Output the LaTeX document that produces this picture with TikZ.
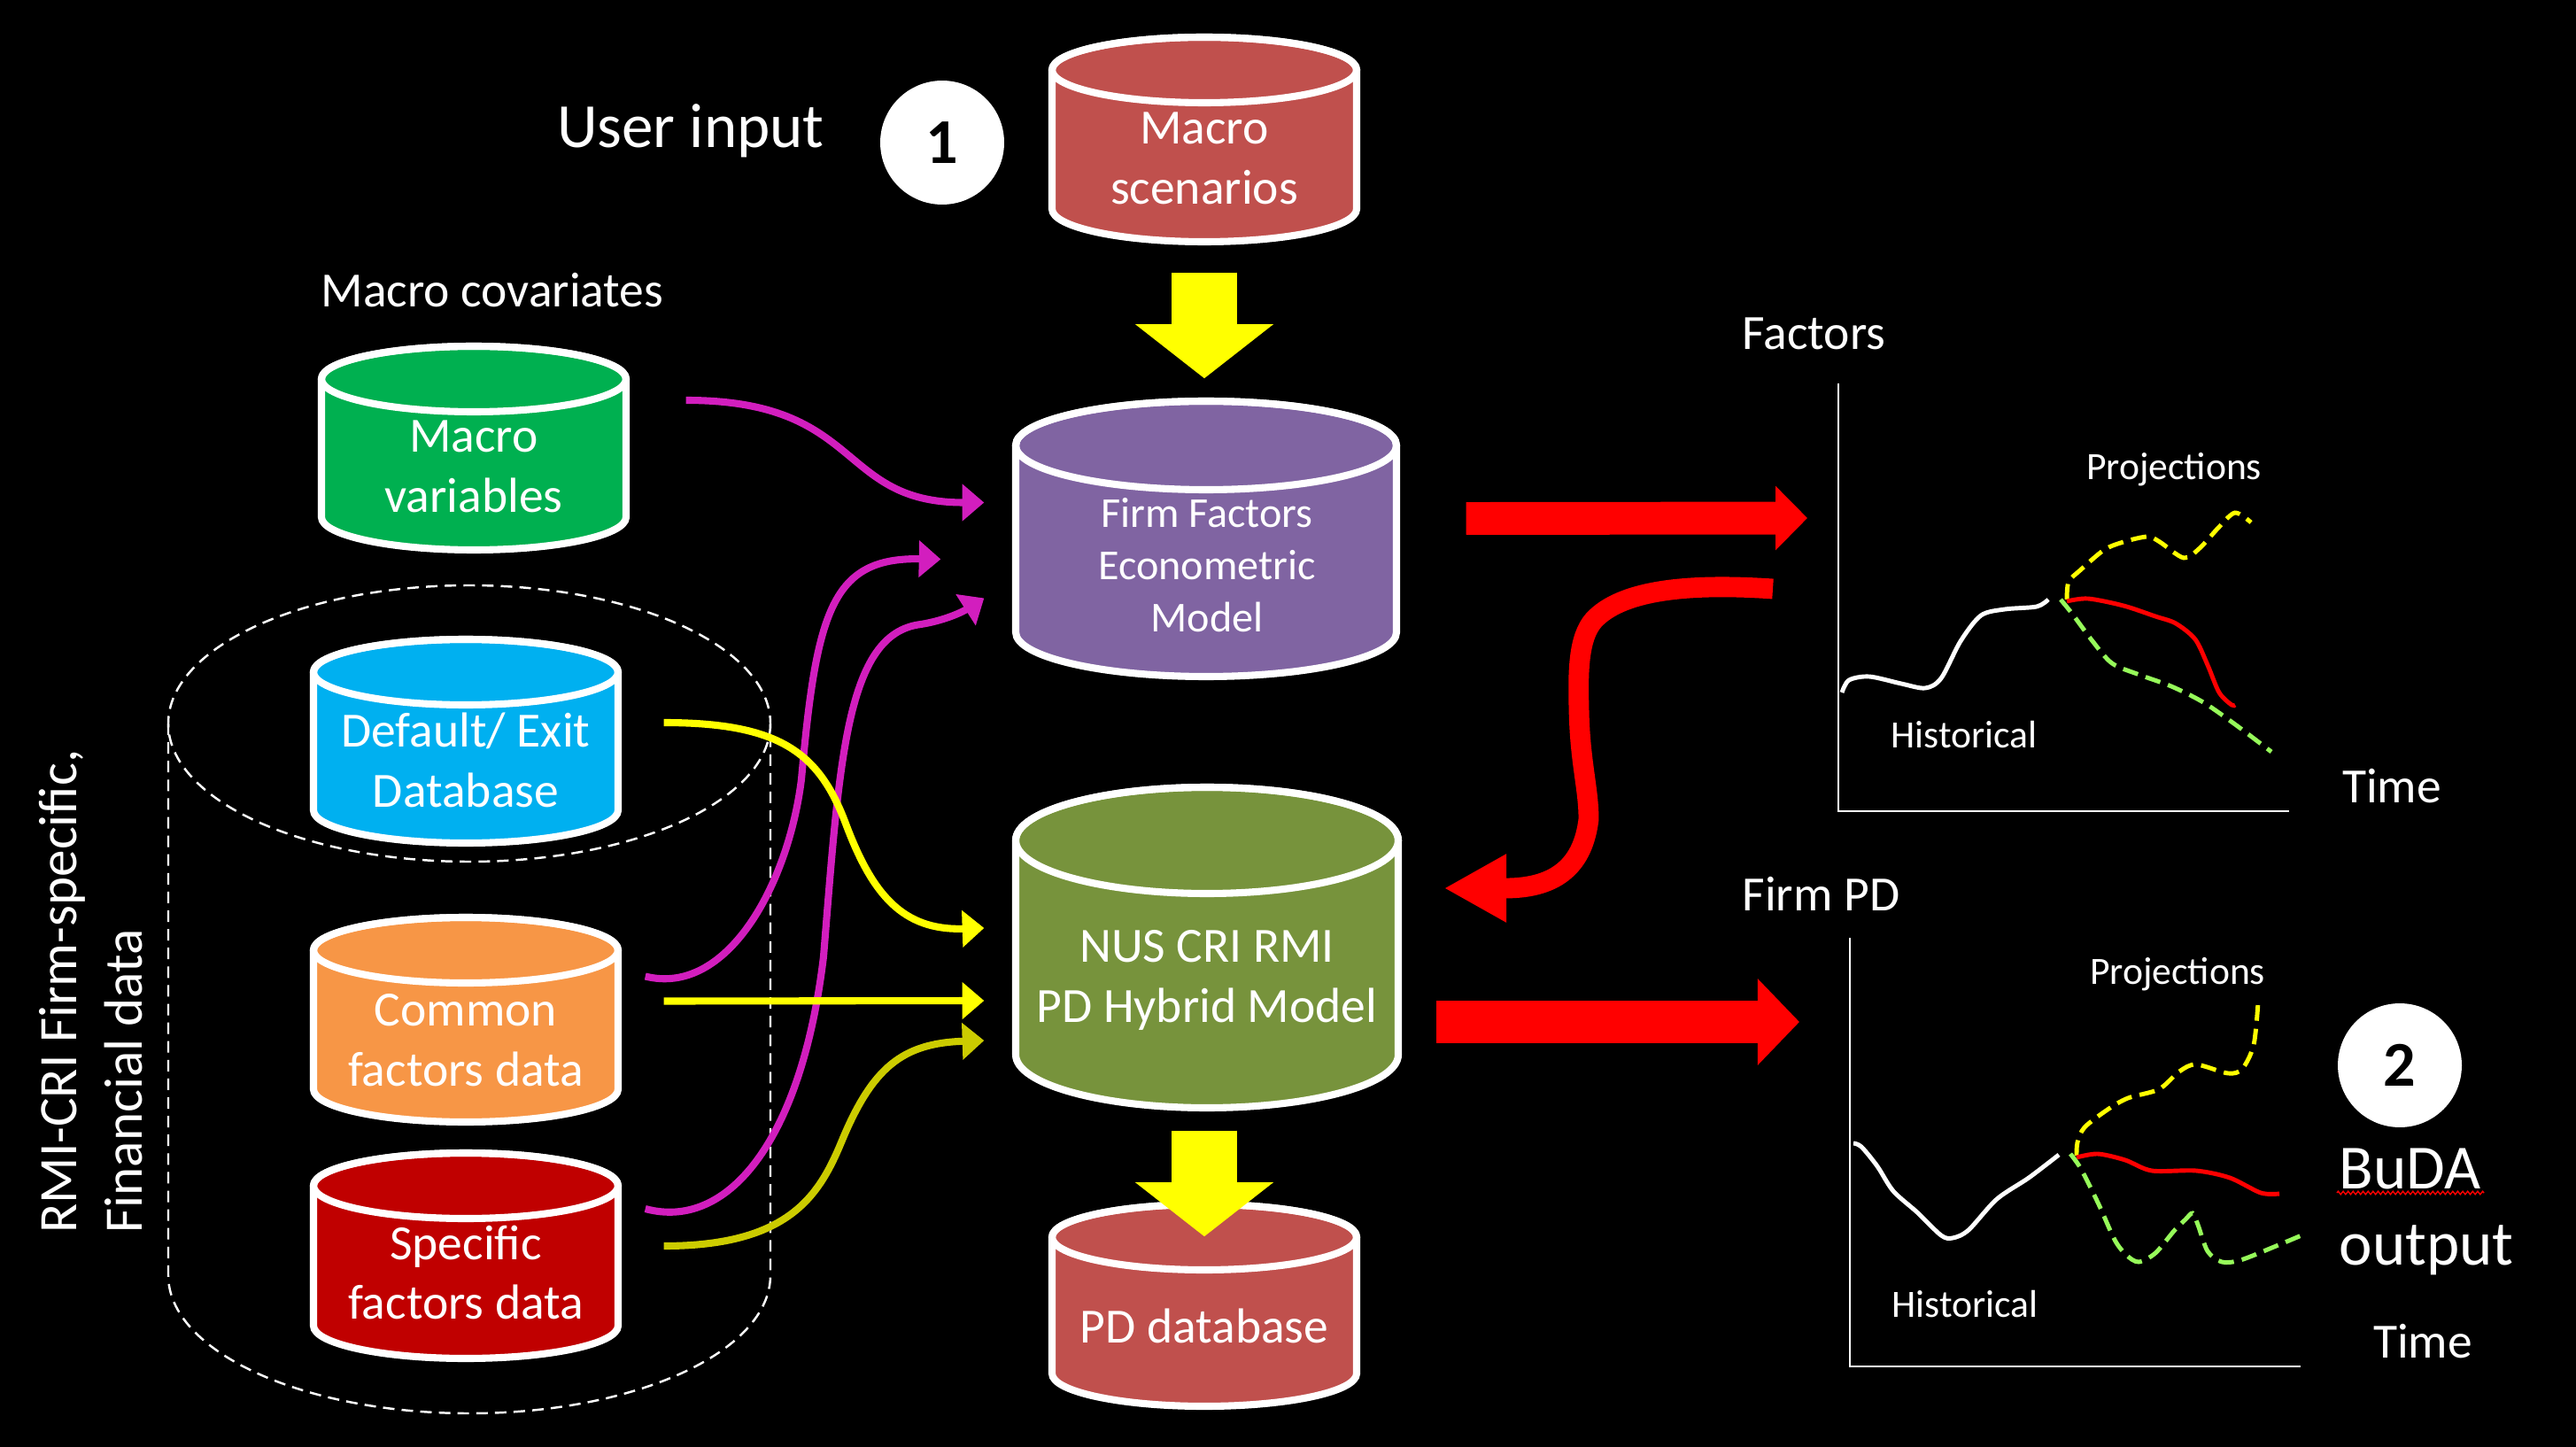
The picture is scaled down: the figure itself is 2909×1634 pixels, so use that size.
\documentclass[tikz,border=0pt]{standalone}
\usepackage{fontspec}
\setmainfont{Carlito}
\usetikzlibrary{arrows.meta,decorations.pathmorphing}

\definecolor{dbred}{HTML}{C0504D}
\definecolor{dbgreen}{HTML}{00B050}
\definecolor{dbblue}{HTML}{00B0F0}
\definecolor{dborange}{HTML}{F79646}
\definecolor{dbdarkred}{HTML}{C00000}
\definecolor{dbpurple}{HTML}{8064A2}
\definecolor{dbolive}{HTML}{77933C}
\definecolor{magline}{RGB}{210,30,190}
\definecolor{yelline}{RGB}{255,255,0}
\definecolor{oliveline}{RGB}{204,204,0}
\definecolor{projgreen}{RGB}{150,250,90}

% database cylinder: name, fill, centre x, top, bottom, x radius, y radius
\newcommand{\dbcyl}[7]{%
  \filldraw[dbline, fill=#2] ({#3-#6},{#4+#7}) -- ({#3-#6},{#5-#7})
    arc[start angle=180, end angle=0, x radius=#6, y radius=#7]
    -- ({#3+#6},{#4+#7})
    arc[start angle=0, end angle=-180, x radius=#6, y radius=#7] -- cycle;
  \draw[dbline] (#3,{#4+#7}) ellipse[x radius=#6, y radius=#7];
  \node[inner sep=0pt, minimum width={2*#6*0.01cm}, minimum height={(#5-#4)*0.01cm}] (#1) at (#3,{(#4+#5)/2}) {};
}

\begin{document}
\begin{tikzpicture}[x=0.01cm, y=-0.01cm]
        \tikzstyle{dbline}=[draw=white, line width=2.3pt]
        \tikzstyle{dbtext}=[text=white, align=center, inner sep=0pt, font=\fontsize{15.8}{19.3}\selectfont]
        \tikzstyle{fftext}=[dbtext, font=\fontsize{13.7}{16.8}\selectfont]
        \tikzstyle{bigtext}=[text=white, inner sep=0pt, font=\fontsize{20.2}{24.6}\selectfont]
        \tikzstyle{smalltext}=[text=white, inner sep=0pt, font=\fontsize{12.4}{15}\selectfont]
        \tikzstyle{sidetext}=[text=white, inner sep=0pt, rotate=90, anchor=base west, font=\fontsize{17.4}{21}\selectfont]
        \tikzstyle{numcircle}=[circle, fill=white, inner sep=0pt, minimum size=39.8pt, text=black, font=\bfseries\fontsize{20.5}{24}\selectfont]
        \tikzstyle{groupline}=[white, line width=0.7pt, dash pattern=on 3.7pt off 2.3pt]
        \tikzstyle{magarrow}=[draw=magline, line width=2.3pt, -{Triangle[length=7pt, width=11.5pt]}]
        \tikzstyle{yelarrow}=[magarrow, draw=yelline]
        \tikzstyle{olivearrow}=[magarrow, draw=oliveline]
        \tikzstyle{yelblock}=[draw=yelline, line width=21.3pt, -{Triangle[length=17.4pt, width=43.5pt]}]
        \tikzstyle{redblock}=[draw=red, line width=10.5pt, -{Triangle[length=10.2pt, width=20pt]}]
        \tikzstyle{redcurve}=[draw=red, line width=6.5pt, -{Triangle[length=20pt, width=20.5pt]}]
        \tikzstyle{axisline}=[white, line width=0.8pt]
        \tikzstyle{histline}=[white, line width=1.4pt]
        \tikzstyle{projdash}=[line width=1.4pt, dash pattern=on 5pt off 2.6pt]

        \useasboundingbox (0,0) rectangle (2909,1634);
        \fill[black] (0,0) rectangle (2909,1634);

        % firm-specific group
        \draw[groupline] (530,817) ellipse[x radius=340, y radius=156];
        \draw[groupline] (190,817) -- (190,1440) arc[start angle=180, end angle=0, x radius=340, y radius=156] -- (870,817);
        \node[sidetext] (side1) at (87,1393) {RMI-CRI Firm-specific,};
        \node[sidetext] (side2) at (160,1393) {Financial data};

        % databases
        \dbcyl{msc}{dbred}{1360}{42}{273}{172}{37}
        \dbcyl{mvar}{dbgreen}{535}{391}{621}{172}{37}
        \dbcyl{dfx}{dbblue}{526}{722}{952}{172}{37}
        \dbcyl{com}{dborange}{526}{1036}{1267}{172}{37}
        \dbcyl{spc}{dbdarkred}{526}{1302}{1534}{172}{37}
        \dbcyl{ffem}{dbpurple}{1362}{453}{764}{215}{50}
        \dbcyl{hyb}{dbolive}{1363}{889}{1251}{216}{60}
        \dbcyl{pdb}{dbred}{1360}{1360}{1588}{172}{37}

        \node[dbtext] (msctext) at (1360,179) {Macro\\scenarios};
        \node[dbtext] (mvartext) at (535,527) {Macro\\variables};
        \node[dbtext] (dfxtext) at (526,858) {Default/ Exit\\Database};
        \node[dbtext] (comtext) at (526,1175) {Common\\factors data};
        \node[dbtext] (spctext) at (526,1437) {Specific\\factors data};
        \node[fftext] (ffemtext) at (1363,638) {Firm Factors\\Econometric\\Model};
        \node[dbtext] (hybtext) at (1363,1107) {NUS CRI RMI\\PD Hybrid Model};
        \node[dbtext, anchor=base] (pdbtext) at (1360,1516) {PD database};

        \node[bigtext, anchor=base] (user) at (780,167) {User input};
        \node[numcircle] (n1) at (1064,161) {1};
        \node[dbtext, anchor=base] (mcov) at (556,347) {Macro covariates};

        % inputs
        \draw[magarrow] ([shift={(67,-54)}]mvar.east) .. controls +(201,0) and +(-167,0) .. ([shift={(-35,-41)}]ffem.west);
        \draw[magarrow] ([shift={(30,-49)}]com.east) .. controls +(92,23) and +(-15,120) .. (905,880)
            .. controls +(17,-190) and +(-123,-2) .. ([shift={(-84,23)}]ffem.west);
        \draw[magarrow] ([shift={(30,-53)}]spc.east) .. controls +(92,25) and +(-25,210) .. (930,1080)
            .. controls +(18,-220) and +(-85,10) .. (1040,705)
            .. controls +(30,-5) and +(-22,14) .. ([shift={(-35,67)}]ffem.west);
        \draw[yelarrow] ([shift={(51,-21)}]dfx.east) .. controls +(131,0) and +(-30,-80) .. (955,930)
            .. controls +(30,80) and +(-92,3) .. ([shift={(-35,-22)}]hyb.west);
        \draw[yelarrow] ([shift={(51,-21)}]com.east) -- ([shift={(-35,60)}]hyb.west);
        \draw[olivearrow] ([shift={(51,-11)}]spc.east) .. controls +(141,0) and +(-25,60) .. (950,1290)
            .. controls +(35,-85) and +(-92,3) .. ([shift={(-35,105)}]hyb.west);

        \draw[yelblock] ([shift={(0,34)}]msc.south) -- ([shift={(0,-25)}]msc.south |- ffem.north);
        \draw[yelblock] ([shift={(-3,25)}]hyb.south) -- ([shift={(0,37)}]pdb.north);

        % factors chart
        \node[dbtext, anchor=base west] (factors) at (1967,395) {Factors};
        \coordinate (fo) at (2076,916);
        \coordinate (fin) at (2041,585);
        \coordinate (fout) at (2002,665);
        \draw[axisline] (2076,433) -- (fo) -- (2585,916);
        \draw[histline] plot[smooth] coordinates {(2080,782) (2088,768) (2111,764) (2147,772) (2174,777) (2192,766) (2214,724) (2237,695) (2264,688) (2300,685) (2313,677)};
        \draw[projdash, yelline] plot[smooth] coordinates {(2334,677) (2336,657) (2349,644) (2376,621) (2398,612) (2425,606) (2439,612) (2466,630) (2484,619) (2506,595) (2524,579) (2542,590)};
        \draw[histline, red] plot[smooth] coordinates {(2334,679) (2358,676) (2398,684) (2434,696) (2457,704) (2479,722) (2493,751) (2506,782) (2520,796) (2524,796)};
        \draw[projdash, projgreen] plot[smooth] coordinates {(2327,677) (2340,693) (2363,724) (2385,749) (2416,762) (2452,775) (2488,793) (2524,818) (2565,849)};
        \node[smalltext, anchor=base] (fproj) at (2455,542) {Projections};
        \node[smalltext, anchor=base] (fhist) at (2218,844) {Historical};
        \node[dbtext, anchor=base] (ftime) at (2701,906) {Time};

        \draw[redblock] ([shift={(78,-23)}]ffem.east) -- (fin);
        \draw[redcurve] (fout) .. controls +(-102,-7) and +(30,-32) .. (1800,700)
            .. controls +(-18,20) and +(-1,-40) .. (1783,800)
            .. controls +(1,60) and +(0,-35) .. (1794,925)
            .. controls +(-6,50) and +(60,0) .. (1700,1003) -- ([shift={(51,-67)}]hyb.east);

        % firm PD chart
        \node[dbtext, anchor=base west] (firmpd) at (1967,1028) {Firm PD};
        \coordinate (po) at (2089,1543);
        \coordinate (pin) at (2032,1154);
        \draw[axisline] (2089,1059) -- (po) -- (2598,1543);
        \draw[histline] plot[smooth] coordinates {(2093,1291) (2102,1295) (2120,1317) (2138,1345) (2165,1369) (2192,1395) (2205,1398) (2223,1389) (2255,1354) (2291,1330) (2325,1304)};
        \draw[projdash, yelline] plot[smooth] coordinates {(2345,1305) (2346,1290) (2354,1273) (2380,1253) (2403,1240) (2438,1230) (2461,1210) (2480,1202) (2516,1212) (2532,1207) (2545,1180) (2550,1132)};
        \draw[histline, red] plot[smooth] coordinates {(2345,1307) (2369,1303) (2400,1310) (2430,1322) (2480,1322) (2518,1330) (2553,1347) (2574,1348)};
        \draw[projdash, projgreen] plot[smooth] coordinates {(2338,1303) (2350,1320) (2370,1360) (2388,1400) (2401,1417) (2415,1425) (2434,1415) (2455,1390) (2468,1377) (2476,1370) (2482,1383) (2493,1413) (2509,1425) (2530,1423) (2568,1408) (2599,1395)};
        \node[smalltext, anchor=base] (pproj) at (2459,1111) {Projections};
        \node[smalltext, anchor=base] (phist) at (2219,1487) {Historical};
        \node[dbtext, anchor=base] (ptime) at (2736,1533) {Time};

        \draw[redblock, line width=13.7pt, -{Triangle[length=13.4pt, width=27pt]}] ([shift={(42,84)}]hyb.east) -- (pin);

        % output
        \node[numcircle] (n2) at (2710,1203) {2};
        \node[bigtext, anchor=base west] (buda) at (2641,1342) {BuDA};
        \node[bigtext, anchor=base west] (output) at (2641,1428) {output};
        \draw[red, line width=0.4pt, decorate, decoration={zigzag, amplitude=0.5pt, segment length=1.6pt}] ([shift={(-2,5)}]buda.base west) -- ([shift={(3,5)}]buda.base east);
\end{tikzpicture}
\end{document}
